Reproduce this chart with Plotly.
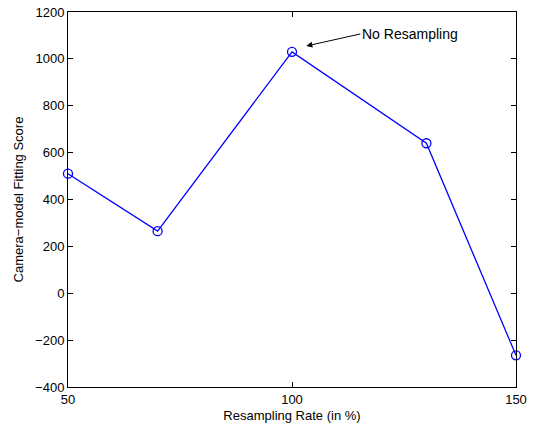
import plotly.graph_objects as go

rates = [50, 70, 100, 130, 150]
scores = [510, 265, 1030, 640, -265]
x_ticks = [50, 100, 150]
y_ticks = list(range(-400, 1201, 200))

FONT = "Liberation Sans, Arial"

fig = go.Figure()
fig.add_trace(go.Scatter(
    x=rates, y=scores, mode="lines+markers",
    line=dict(color="#0000ff", width=1.3),
    marker=dict(symbol="circle-open", size=9, color="#0000ff", line=dict(width=1.3)),
    showlegend=False, cliponaxis=False,
))

axis_common = dict(
    showgrid=False, zeroline=False, showline=True, linecolor="black", linewidth=1,
    mirror="ticks", ticks="inside", ticklen=5, tickcolor="black", automargin=False,
    tickfont=dict(family=FONT, size=13, color="black"),
)
fig.update_xaxes(range=[50, 150], tickvals=x_ticks,
                 title=dict(text="Resampling Rate (in %)", font=dict(family=FONT, size=13, color="black"), standoff=5),
                 **axis_common)
fig.update_yaxes(range=[-400, 1200], tickvals=y_ticks,
                 title=dict(text="Camera\u2212model Fitting Score", font=dict(family=FONT, size=13, color="black"), standoff=8),
                 **axis_common)

fig.add_annotation(
    x=103.2, y=1055, text="No Resampling", showarrow=True,
    ax=54, ay=-12, xanchor="left", yanchor="middle",
    arrowhead=2, arrowsize=1.2, arrowwidth=1, arrowcolor="black",
    font=dict(family=FONT, size=14, color="black"),
)

fig.update_layout(
    width=542, height=427, plot_bgcolor="white", paper_bgcolor="white",
    margin=dict(l=68, r=26, t=12, b=40),
)
fig.write_html("out.html")
